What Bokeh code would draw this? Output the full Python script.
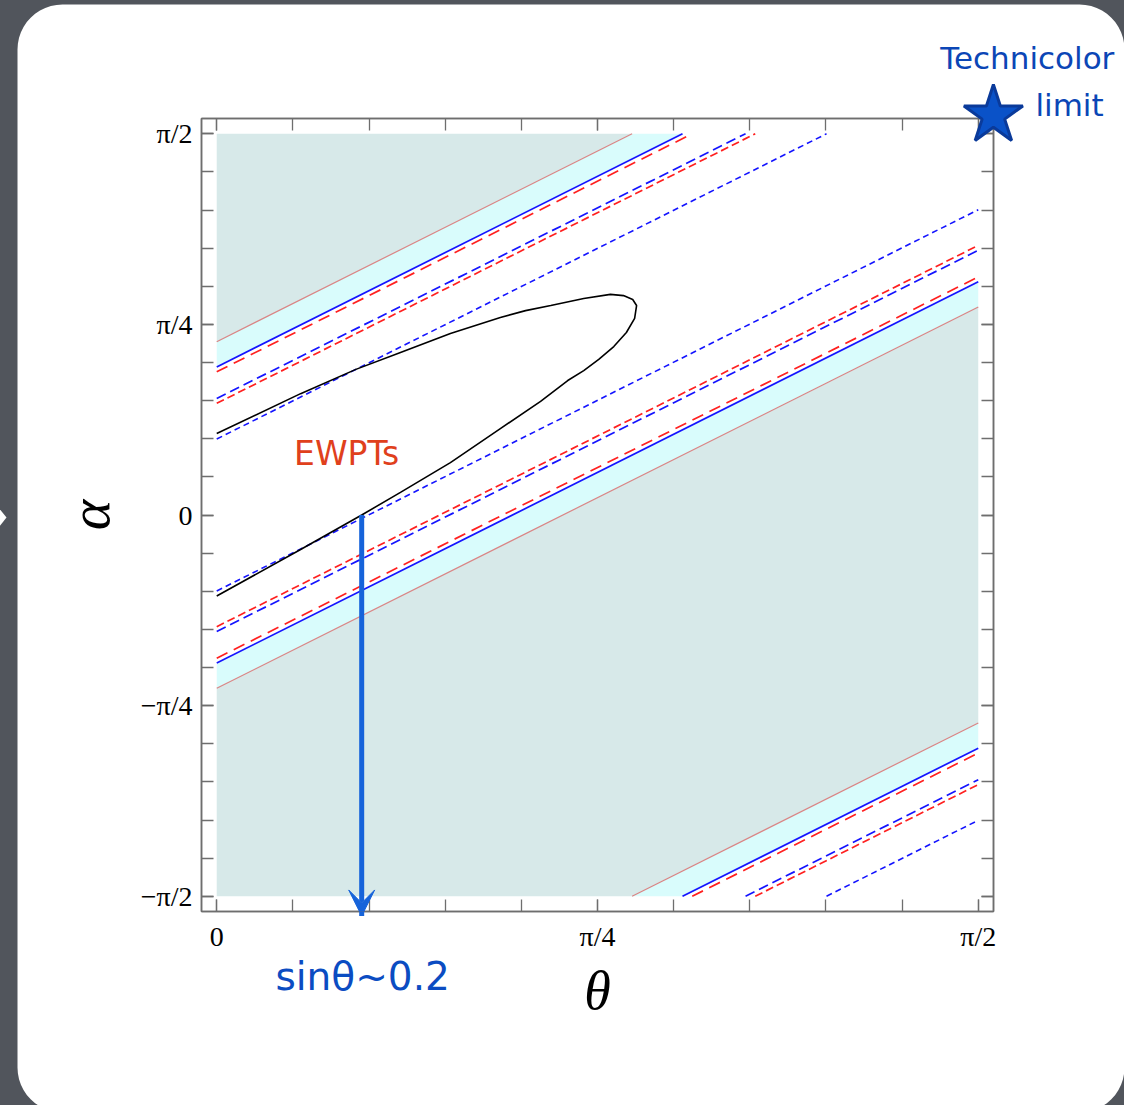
import math
from bokeh.plotting import figure
from bokeh.models import (Range1d, FixedTicker, LinearAxis, Arrow, VeeHead)
from bokeh.core.properties import value
from bokeh.embed import file_html
from bokeh.resources import INLINE

PI = math.pi

# ---------------- data ----------------
# Contour families: straight lines alpha - theta = c  (the +c copy; mirrored at -c, repeated at c - pi)
FAMILY_OFFSETS = [0.714, 0.610, 0.590, 0.480, 0.460, 0.313]
FAMILY_COLORS = ["#d98585", "#1414ff", "#ff2020", "#1414ff", "#ff2020", "#1414ff"]
FAMILY_DASHES = ["solid", "solid", "12 7", "10 5", "8 4", "6 4"]
FAMILY_WIDTHS = [1.2, 1.7, 1.7, 1.7, 1.7, 1.6]

# Shaded regions: intervals of (alpha - theta)
EXCL_EDGE = 0.714      # pink boundary
ALLOWED_EDGE = 0.610   # blue solid boundary
GRAY_BANDS = [(EXCL_EDGE, 10.0), (EXCL_EDGE - PI, -EXCL_EDGE)]
CYAN_BANDS = [(ALLOWED_EDGE, EXCL_EDGE), (-EXCL_EDGE, -ALLOWED_EDGE),
              (ALLOWED_EDGE - PI, EXCL_EDGE - PI)]
GRAY_COLOR = "#d7e9e9"
CYAN_COLOR = "#d9fcfc"

# Black curve (theta, alpha)
CURVE_THETA = [0.000, 0.173, 0.287, 0.379, 0.482, 0.585, 0.637, 0.689, 0.757, 0.812,
               0.839, 0.858, 0.866, 0.862, 0.845, 0.819, 0.788, 0.757, 0.724, 0.668,
               0.585, 0.482, 0.379, 0.299, 0.173, 0.000]
CURVE_ALPHA = [0.336, 0.500, 0.600, 0.670, 0.748, 0.814, 0.842, 0.863, 0.892, 0.909,
               0.904, 0.888, 0.863, 0.810, 0.752, 0.694, 0.641, 0.595, 0.554, 0.468,
               0.356, 0.216, 0.093, 0.000, -0.142, -0.334]

# Arrow marking sin(theta) ~ 0.2
ARROW_THETA = 0.299
ARROW_ALPHA_START = 0.0
ARROW_ALPHA_END = -1.652

# Annotations (theta, alpha positions)
NOTE_TEXT = ["EWPTs", "sinθ~0.2", "Technicolor", "limit"]
NOTE_X = [0.268, 0.301, 1.672, 1.759]
NOTE_Y = [0.253, -1.900, 1.881, 1.690]
NOTE_SIZE = ["33px", "39px", "31px", "31px"]
NOTE_COLOR = ["#e0401c", "#0b4cc2", "#0b46b6", "#0b46b6"]
STAR_X = [1.602]
STAR_Y = [1.646]

# Ticks
X_TICKS = [0, PI / 4, PI / 2]
X_TICK_LABELS = ["0", "π/4", "π/2"]
Y_TICKS = [-PI / 2, -PI / 4, 0, PI / 4, PI / 2]
Y_TICK_LABELS = ["−π/2", "−π/4", "0", "π/4", "π/2"]
X_MINOR = [k * PI / 20 for k in range(0, 11)]
Y_MINOR = [k * PI / 20 for k in range(-10, 11)]

# Domain and plot range (2% padding)
TH_MIN, TH_MAX = 0.0, PI / 2
AL_MIN, AL_MAX = -PI / 2, PI / 2
XMIN, XMAX = TH_MIN - 0.02 * (TH_MAX - TH_MIN), TH_MAX + 0.02 * (TH_MAX - TH_MIN)
YMIN, YMAX = AL_MIN - 0.02 * (AL_MAX - AL_MIN), AL_MAX + 0.02 * (AL_MAX - AL_MIN)

# ---------------- layout ----------------
W, H = 1124, 1105
FL, FT, FR, FB = 201, 118, 993, 911   # frame box in pixels


def X(px):
    return XMIN + (px - FL) * (XMAX - XMIN) / (FR - FL)


def Y(py):
    return YMAX - (py - FT) * (YMAX - YMIN) / (FB - FT)


def clip(poly, a, b, c):
    out = []
    n = len(poly)
    for i in range(n):
        P, Q = poly[i], poly[(i + 1) % n]
        fp = a * P[0] + b * P[1] + c
        fq = a * Q[0] + b * Q[1] + c
        if fp >= 0:
            out.append(P)
        if (fp >= 0) != (fq >= 0):
            t = fp / (fp - fq)
            out.append((P[0] + t * (Q[0] - P[0]), P[1] + t * (Q[1] - P[1])))
    return out


BOX = [(TH_MIN, AL_MIN), (TH_MAX, AL_MIN), (TH_MAX, AL_MAX), (TH_MIN, AL_MAX)]


def band_poly(lo, hi):
    poly = clip(BOX, -1, 1, -lo)
    poly = clip(poly, 1, -1, hi)
    return [q[0] for q in poly], [q[1] for q in poly]


def line_seg(k):
    t0 = max(TH_MIN, AL_MIN - k)
    t1 = min(TH_MAX, AL_MAX - k)
    if t1 <= t0:
        return None
    return [t0, t1], [t0 + k, t1 + k]


p = figure(width=W, height=H, x_range=Range1d(XMIN, XMAX), y_range=Range1d(YMIN, YMAX),
           output_backend="svg", toolbar_location=None,
           min_border_left=FL, min_border_top=FT, min_border_right=W - FR,
           min_border_bottom=H - FB, x_axis_label="θ", y_axis_label="α")
bottom = p.below[0]
left = p.left[0]
p.xgrid.visible = False
p.ygrid.visible = False
p.background_fill_color = "white"
p.border_fill_color = "white"
p.outline_line_color = "#6e6e6e"
p.outline_line_width = 1.5

# shaded regions
for bands, col in ((GRAY_BANDS, GRAY_COLOR), (CYAN_BANDS, CYAN_COLOR)):
    xs, ys = [], []
    for lo, hi in bands:
        bx, by = band_poly(lo, hi)
        if len(bx) >= 3:
            xs.append(bx)
            ys.append(by)
    p.patches(xs, ys, fill_color=col, line_color=None)

# contour lines
for c, col, dash, lw in zip(FAMILY_OFFSETS, FAMILY_COLORS, FAMILY_DASHES, FAMILY_WIDTHS):
    xs, ys = [], []
    for k in (c, -c, c - PI):
        seg = line_seg(k)
        if seg:
            xs.append(seg[0])
            ys.append(seg[1])
    p.multi_line(xs, ys, line_color=col, line_dash=dash, line_width=lw)

# black curve
p.line(CURVE_THETA, CURVE_ALPHA, line_color="black", line_width=1.6)

# axes styling
GRAY = "#6e6e6e"
xt = FixedTicker(ticks=X_TICKS, minor_ticks=X_MINOR)
yt = FixedTicker(ticks=Y_TICKS, minor_ticks=Y_MINOR)
bottom.ticker = xt
left.ticker = yt
bottom.major_label_overrides = dict(zip(X_TICKS, X_TICK_LABELS))
left.major_label_overrides = dict(zip(Y_TICKS, Y_TICK_LABELS))

top = LinearAxis(ticker=xt, major_label_overrides={t: "" for t in X_TICKS})
right = LinearAxis(ticker=yt, major_label_overrides={t: "" for t in Y_TICKS})
p.add_layout(top, "above")
p.add_layout(right, "right")

for ax in [bottom, left, top, right]:
    ax.axis_line_color = GRAY
    ax.axis_line_width = 1.5
    ax.major_tick_line_color = GRAY
    ax.minor_tick_line_color = GRAY
    ax.major_tick_line_width = 1.3
    ax.minor_tick_line_width = 1.3
    ax.major_tick_in = 12
    ax.major_tick_out = 0
    ax.minor_tick_in = 12
    ax.minor_tick_out = 0
    ax.major_label_text_font = "Liberation Serif"
    ax.major_label_text_font_size = "28px"
    ax.major_label_text_color = "black"

bottom.major_label_standoff = 9
left.major_label_standoff = 9
bottom.axis_label_text_font = "Liberation Serif"
bottom.axis_label_text_font_style = "italic"
bottom.axis_label_text_font_size = "54px"
bottom.axis_label_text_color = "black"
bottom.axis_label_standoff = 6
left.axis_label_text_font = "Liberation Serif"
left.axis_label_text_font_style = "italic"
left.axis_label_text_font_size = "58px"
left.axis_label_text_color = "black"
left.axis_label_standoff = 16

# arrow
ARROW_COLOR = "#1663da"
p.add_layout(Arrow(end=VeeHead(size=26, fill_color=ARROW_COLOR, line_color=ARROW_COLOR),
                   x_start=ARROW_THETA, y_start=ARROW_ALPHA_START,
                   x_end=ARROW_THETA, y_end=ARROW_ALPHA_END,
                   line_color=ARROW_COLOR, line_width=5))

# texts (overlay level so they may extend outside the frame)
p.text(x=NOTE_X, y=NOTE_Y, text=NOTE_TEXT, text_font=value("DejaVu Sans"),
       text_font_size=NOTE_SIZE, text_color=NOTE_COLOR,
       text_align="center", text_baseline="middle", level="overlay")

# star (technicolor limit marker)
p.scatter(x=STAR_X, y=STAR_Y, marker="star", size=62, fill_color="#0a52c8",
          line_color="#0a3a9a", line_width=3, level="overlay")

# slide chrome: dark slide background around a rounded white panel (a polygon with holes)
DARK = "#51555c"
RAD = 45
PL, PT, PR, PB = 17, 4, 1124, 1112

outer = [(-20, -20), (W + 20, -20), (W + 20, H + 20), (-20, H + 20)]
panel = []
for cx, cy, a0 in ((PL + RAD, PT + RAD, PI), (PR - RAD, PT + RAD, 1.5 * PI),
                   (PR - RAD, PB - RAD, 0.0), (PL + RAD, PB - RAD, 0.5 * PI)):
    for i in range(13):
        a = a0 + 0.5 * PI * i / 12
        panel.append((cx + RAD * math.cos(a), cy + RAD * math.sin(a)))
wedge = [(-2, 507), (6, 517), (-2, 527)]


def to_data(pts):
    return [X(a) for a, b in pts], [Y(b) for a, b in pts]


ox, oy = to_data(outer)
hx, hy = to_data(panel)
wx, wy = to_data(wedge)
p.multi_polygons(xs=[[[ox, hx]]], ys=[[[oy, hy]]], fill_color=DARK,
                 line_color=None, level="overlay")
p.patch(wx, wy, fill_color="white", line_color=None, level="overlay")

open("out.html", "w").write(file_html(p, INLINE))
